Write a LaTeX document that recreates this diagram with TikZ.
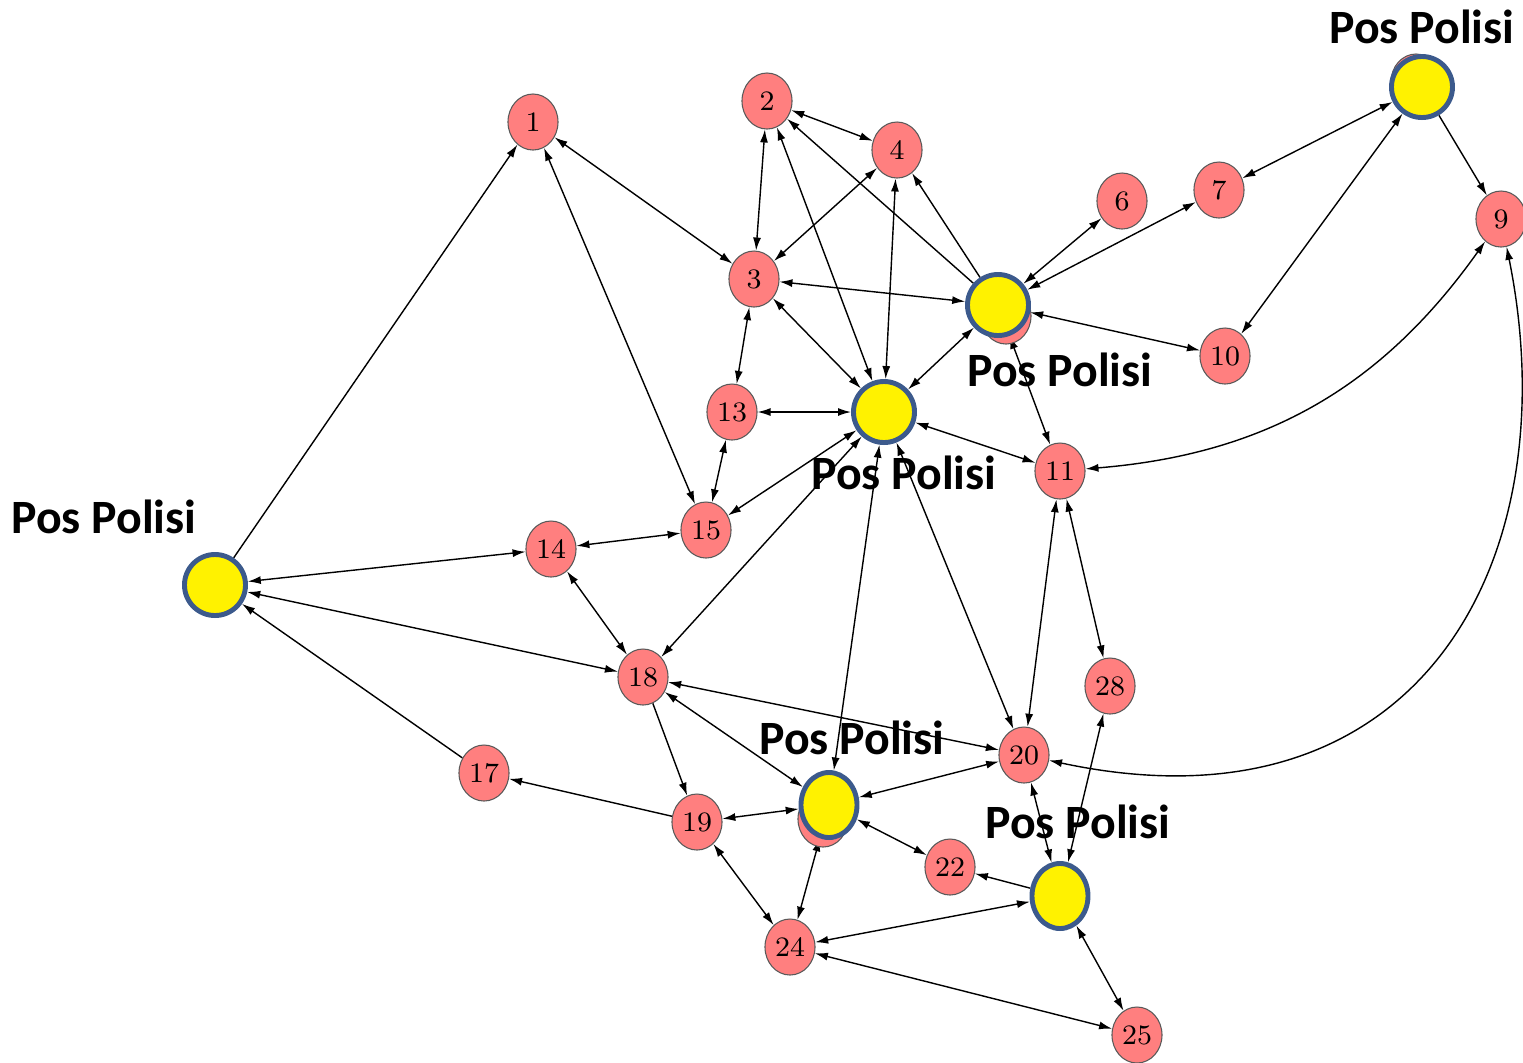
\documentclass[tikz,border=0pt]{standalone}
\usepackage{fontspec}
\usepackage{xcolor}
\usepackage{tikz}
\usetikzlibrary{arrows.meta}
\usetikzlibrary{shapes.geometric}
\usetikzlibrary{backgrounds}
\newfontfamily\polfont{Carlito}

\definecolor{nodered}{HTML}{FF7F7F}
\definecolor{polblue}{HTML}{3C5A8C}

\begin{document}
\begin{tikzpicture}[x=0.01cm,y=-0.01cm,
  >={Latex[length=1.3mm,width=0.8mm]},
  vertex/.style={ellipse,draw=black!65,line width=0.3pt,fill=nodered,
    minimum width=0.5cm,minimum height=0.56cm,inner sep=0pt,
    font=\fontsize{8}{9}\selectfont},
  police/.style={circle,draw=polblue,line width=1.4pt,fill=yellow,
    minimum size=0.61cm,inner sep=0pt},
  policeb/.style={police,ellipse,minimum width=0.56cm,minimum height=0.65cm},
  pollabel/.style={inner sep=0pt,font=\polfont\bfseries\fontsize{13.6}{16}\selectfont}]

\useasboundingbox (0,0) rectangle (1523,1062);

% Red vertices
\node[vertex] (n1)  at (533,122)  {1};
\node[vertex] (n2)  at (767,101)  {2};
\node[vertex] (n3)  at (754,279)  {3};
\node[vertex] (n4)  at (897,150)  {4};
\node[vertex] (n6)  at (1122,201) {6};
\node[vertex] (n7)  at (1219,190) {7};
\node[vertex] (n9)  at (1501,219) {9};
\node[vertex] (n10) at (1225,356) {10};
\node[vertex] (n11) at (1060,471) {11};
\node[vertex] (n13) at (732,412)  {13};
\node[vertex] (n14) at (551,549)  {14};
\node[vertex] (n15) at (706,530)  {15};
\node[vertex] (n17) at (484,773)  {17};
\node[vertex] (n18) at (643,677)  {18};
\node[vertex] (n19) at (697,822)  {19};
\node[vertex] (n20) at (1024,755) {20};
\node[vertex] (n22) at (950,867)  {22};
\node[vertex] (n24) at (790,947)  {24};
\node[vertex] (n25) at (1137,1035) {25};
\node[vertex] (n28) at (1110,686) {28};

% Red vertices hidden under the police posts
\node[vertex] (r5)  at (1006,316) {};
\node[vertex] (r8)  at (1416,82)  {};
\node[vertex] (r21) at (823,819)  {};

% Police posts
\node[police]  (p5)  at (998,305)  {};
\node[police]  (p8)  at (1422,87)  {};
\node[police]  (p12) at (884,412)  {};
\node[police]  (p16) at (215,585)  {};
\node[policeb] (p21) at (829,805)  {};
\node[policeb] (p23) at (1060,896) {};

% Edges
\begin{scope}[on background layer]
\draw[->] (p16) -- (n1);
\draw[<->] (n1) -- (n3);
\draw[<->] (n1) -- (n15);
\draw[<->] (n2) -- (n4);
\draw[<->] (n2) -- (n3);
\draw[<->] (n2) -- (p12);
\draw[->] (p5) -- (n2);
\draw[<->] (n4) -- (n3);
\draw[->] (p5) -- (n4);
\draw[<->] (n4) -- (p12);
\draw[<->] (n3) -- (p5);
\draw[<->] (n3) -- (p12);
\draw[<->] (n3) -- (n13);
\draw[<->] (p5) -- (n6);
\draw[<->] (p5) -- (n7);
\draw[<->] (p5) -- (n10);
\draw[<->] (p5) -- (p12);
\draw[<->] (p5) -- (n11);
\draw[<->] (p8) -- (n7);
\draw[<->] (p8) -- (n10);
\draw[->] (p8) -- (n9);
\draw[<->] (n11) to[bend right=25] (n9);
\draw[<->] (n9) .. controls (1570,560) and (1420,840) .. (n20);
\draw[<->] (n13) -- (p12);
\draw[<->] (n13) -- (n15);
\draw[<->] (n15) -- (p12);
\draw[<->] (n15) -- (n14);
\draw[<->] (n14) -- (p16);
\draw[<->] (n14) -- (n18);
\draw[<->] (p16) -- (n18);
\draw[->] (n17) -- (p16);
\draw[->] (n19) -- (n17);
\draw[<->] (p12) -- (n18);
\draw[<->] (p12) -- (n11);
\draw[<->] (p12) -- (p21);
\draw[<->] (p12) -- (n20);
\draw[<->] (n11) -- (n20);
\draw[<->] (n11) -- (n28);
\draw[<->] (n18) -- (n20);
\draw[<->] (n18) -- (p21);
\draw[->] (n18) -- (n19);
\draw[<->] (n19) -- (p21);
\draw[<->] (n19) -- (n24);
\draw[<->] (p21) -- (n20);
\draw[<->] (p21) -- (n22);
\draw[<->] (p21) -- (n24);
\draw[<->] (n20) -- (p23);
\draw[<->] (n28) -- (p23);
\draw[->] (p23) -- (n22);
\draw[<->] (p23) -- (n24);
\draw[<->] (p23) -- (n25);
\draw[<->] (n24) -- (n25);
\end{scope}

% Labels
\node[pollabel] (l8)  at (1422,27) {Pos Polisi};
\node[pollabel] (l5)  at (1060,370) {Pos Polisi};
\node[pollabel] (l12) at (904,473) {Pos Polisi};
\node[pollabel] (l16) at (104,517) {Pos Polisi};
\node[pollabel] (l21) at (852,738) {Pos Polisi};
\node[pollabel] (l23) at (1078,822) {Pos Polisi};

\end{tikzpicture}
\end{document}
